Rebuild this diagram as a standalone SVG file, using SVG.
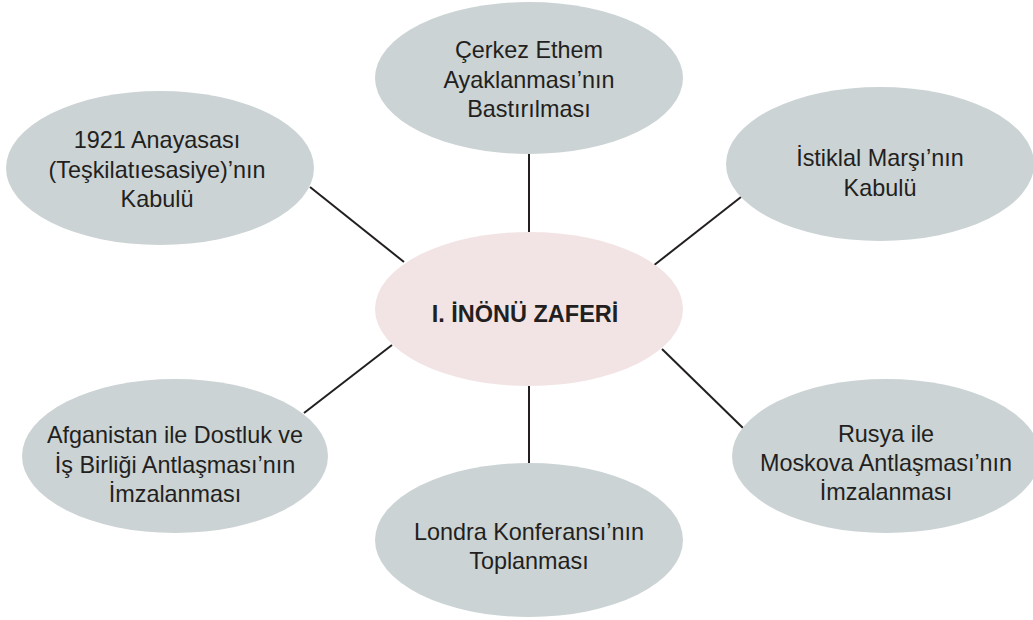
<svg xmlns="http://www.w3.org/2000/svg" width="1033" height="620" viewBox="0 0 1033 620">
<style>
.n{fill:#cbd3d4}
.c{fill:#f2e4e4}
.t{font-family:"Liberation Sans",Arial,sans-serif;font-size:23.4px;fill:#231f20;text-anchor:middle}
.b{font-weight:bold;font-size:23.5px}
.l{stroke:#231f20;stroke-width:2;fill:none}
</style>
<rect width="1033" height="620" fill="#ffffff"/>
<g id="connectors">
<line class="l" x1="529" y1="154" x2="529" y2="232"/>
<line class="l" x1="529" y1="386" x2="529" y2="463"/>
<line class="l" x1="310" y1="187" x2="404" y2="262"/>
<line class="l" x1="741" y1="197" x2="653" y2="266"/>
<line class="l" x1="392" y1="345" x2="304" y2="413"/>
<line class="l" x1="662" y1="349" x2="743" y2="428"/>
</g>
<g id="center">
<ellipse class="c" cx="529" cy="309" rx="154" ry="77"/>
<text class="t b" x="525" y="322">I. İNÖNÜ ZAFERİ</text>
</g>
<g id="n-top">
<ellipse class="n" cx="529" cy="78" rx="154" ry="76"/>
<text class="t" x="529" y="58">Çerkez Ethem</text>
<text class="t" x="529" y="88">Ayaklanması’nın</text>
<text class="t" x="529" y="117">Bastırılması</text>
</g>
<g id="n-topleft">
<ellipse class="n" cx="160" cy="168" rx="154" ry="77"/>
<text class="t" x="157" y="148">1921 Anayasası</text>
<text class="t" x="157" y="178">(Teşkilatıesasiye)’nın</text>
<text class="t" x="157" y="207">Kabulü</text>
</g>
<g id="n-topright">
<ellipse class="n" cx="880" cy="164" rx="154" ry="77"/>
<text class="t" x="880" y="166">İstiklal Marşı’nın</text>
<text class="t" x="880" y="196">Kabulü</text>
</g>
<g id="n-bottomleft">
<ellipse class="n" cx="175" cy="456" rx="153" ry="77"/>
<text class="t" x="175" y="443">Afganistan ile Dostluk ve</text>
<text class="t" x="175" y="473">İş Birliği Antlaşması’nın</text>
<text class="t" x="175" y="502">İmzalanması</text>
</g>
<g id="n-bottom">
<ellipse class="n" cx="529" cy="540" rx="154" ry="77"/>
<text class="t" x="529" y="540">Londra Konferansı’nın</text>
<text class="t" x="529" y="569">Toplanması</text>
</g>
<g id="n-bottomright">
<ellipse class="n" cx="886" cy="456" rx="154" ry="77"/>
<text class="t" x="886" y="442">Rusya ile</text>
<text class="t" x="886" y="471">Moskova Antlaşması’nın</text>
<text class="t" x="886" y="500">İmzalanması</text>
</g>
</svg>
